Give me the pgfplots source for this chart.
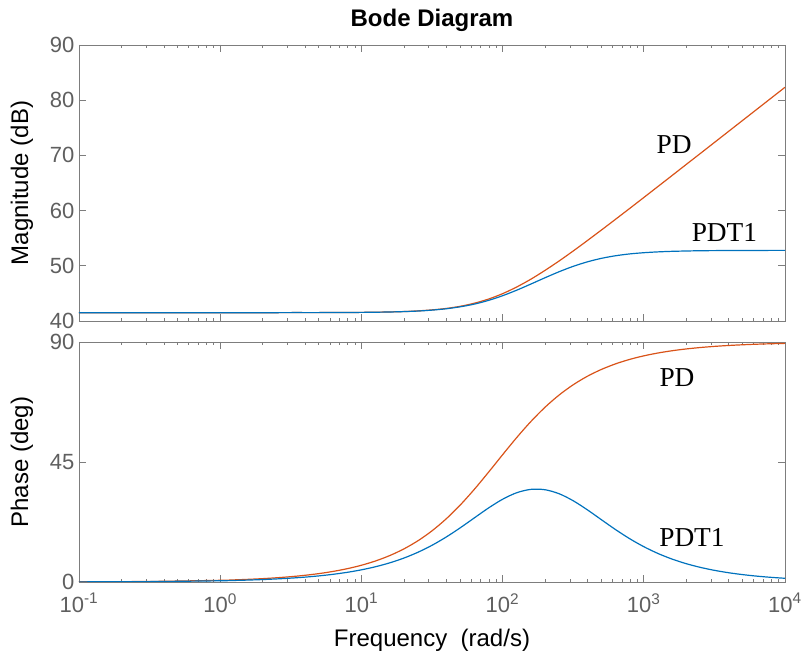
\documentclass[border=0pt]{standalone}
\usepackage{pgfplots}
\pgfplotsset{compat=1.18}
\usepackage{pgfplotstable}
\usepackage{fontspec}
\setmainfont{Liberation Sans}
\newfontfamily\timesfont{Liberation Serif}
\definecolor{pdcol}{RGB}{217,83,25}
\definecolor{pdtcol}{RGB}{0,114,189}
\definecolor{tickgray}{RGB}{95,95,95}
\definecolor{axgray}{RGB}{125,125,125}

\pgfplotstableread{
w       mPD    mPDT   pPD    pPDT
0.1     41.51  41.51  0.063  0.046
0.3162  41.51  41.51  0.199  0.145
1       41.51  41.51  0.630  0.458
1.2589  41.51  41.51  0.793  0.577
1.5849  41.51  41.51  0.999  0.726
1.9953  41.51  41.51  1.257  0.914
2.5119  41.51  41.51  1.583  1.151
3.1623  41.52  41.52  1.992  1.449
3.9811  41.52  41.52  2.508  1.823
5.0119  41.52  41.52  3.156  2.294
6.3096  41.53  41.53  3.970  2.886
7.9433  41.54  41.54  4.994  3.629
10      41.56  41.56  6.277  4.559
12.589  41.59  41.59  7.884  5.721
15.849  41.64  41.63  9.890  7.167
19.953  41.71  41.70  12.379 8.953
25.119  41.83  41.80  15.446 11.137
31.623  42.01  41.97  19.180 13.761
39.811  42.27  42.21  23.650 16.840
50.119  42.66  42.57  28.868 20.317
63.096  43.22  43.06  34.763 24.044
79.433  43.97  43.73  41.146 27.742
100     44.95  44.58  47.726 31.027
125.89  46.16  45.58  54.166 33.476
158.49  47.57  46.69  60.162 34.732
199.53  49.16  47.83  65.505 34.601
251.19  50.87  48.92  70.104 33.103
316.23  52.68  49.90  73.961 30.470
398.11  54.56  50.71  77.137 27.076
501.19  56.48  51.35  79.719 23.346
630.96  58.43  51.82  81.801 19.648
794.33  60.39  52.15  83.471 16.236
1000    62.37  52.37  84.806 13.241
1258.9  64.36  52.52  85.870 10.700
1584.9  66.35  52.62  86.717 8.594
1995.3  68.35  52.68  87.391 6.875
2511.9  70.34  52.73  87.927 5.486
3162.3  72.34  52.75  88.353 4.371
3981.1  74.34  52.77  88.692 3.478
5011.9  76.34  52.78  88.961 2.766
6309.6  78.34  52.78  89.175 2.199
7943.3  80.34  52.79  89.344 1.747
10000   82.34  52.79  89.479 1.388
}\bodedata

\tikzset{annot/.style={font=\timesfont\fontsize{20.5}{22}\selectfont, text=black}}

\begin{document}
\begin{tikzpicture}
\path[use as bounding box] (0,0) rectangle (603pt,494.25pt);

\begin{axis}[
  xmode=log, xmin=0.1, xmax=10000,
  scale only axis, width=529.5pt, height=207pt,
  at={(59.25pt,253.5pt)}, anchor=south west,
  axis line style={axgray, line width=0.6pt},
  tick style={axgray, line width=0.6pt},
  major tick length=5pt, minor tick length=2.6pt,
  tick align=inside,
  xtick={0.1,1,10,100,1000,10000},
  ticklabel style={font=\fontsize{16.5}{18}\selectfont, text=tickgray},
  /pgf/number format/assume math mode=true,
  every axis y label/.style={at={(axis description cs:-0.081,0.5)}, rotate=90, anchor=center, font=\fontsize{18}{20}\selectfont},
  every axis title/.style={at={(axis description cs:0.5,1.09)}, anchor=center, font=\fontsize{18}{20}\selectfont\bfseries},
  ymin=40, ymax=90, ytick={40,50,60,70,80,90},
  xticklabel=\empty,
  ylabel={Magnitude (dB)},
  title={Bode Diagram},
]
\addplot[pdcol, line width=0.9pt, smooth] table[x=w, y=mPD] {\bodedata};
\addplot[pdtcol, line width=0.9pt, smooth] table[x=w, y=mPDT] {\bodedata};
\node[annot] at (axis cs:1637,72.0) {PD};
\node[annot] at (axis cs:3724,56.1) {PDT1};
\end{axis}

\begin{axis}[
  xmode=log, xmin=0.1, xmax=10000,
  scale only axis, width=529.5pt, height=180pt,
  at={(59.25pt,57.75pt)}, anchor=south west,
  axis line style={axgray, line width=0.6pt},
  tick style={axgray, line width=0.6pt},
  major tick length=5pt, minor tick length=2.6pt,
  tick align=inside,
  xtick={0.1,1,10,100,1000,10000},
  ticklabel style={font=\fontsize{16.5}{18}\selectfont, text=tickgray},
  xticklabel style={yshift=-5pt},
  /pgf/number format/assume math mode=true,
  every axis y label/.style={at={(axis description cs:-0.081,0.5)}, rotate=90, anchor=center, font=\fontsize{18}{20}\selectfont},
  every axis x label/.style={at={(axis description cs:0.5,-0.245)}, anchor=center, font=\fontsize{18}{20}\selectfont},
  ymin=0, ymax=90, ytick={0,45,90},
  xticklabels={10\textsuperscript{-1},10\textsuperscript{0},10\textsuperscript{1},10\textsuperscript{2},10\textsuperscript{3},10\textsuperscript{4}},
  ylabel={Phase (deg)},
  xlabel={Frequency\ \ (rad/s)},
]
\addplot[pdcol, line width=0.9pt, smooth] table[x=w, y=pPD] {\bodedata};
\addplot[pdtcol, line width=0.9pt, smooth] table[x=w, y=pPDT] {\bodedata};
\node[annot] at (axis cs:1718,76.6) {PD};
\node[annot] at (axis cs:2193,16.6) {PDT1};
\end{axis}
\end{tikzpicture}
\end{document}
